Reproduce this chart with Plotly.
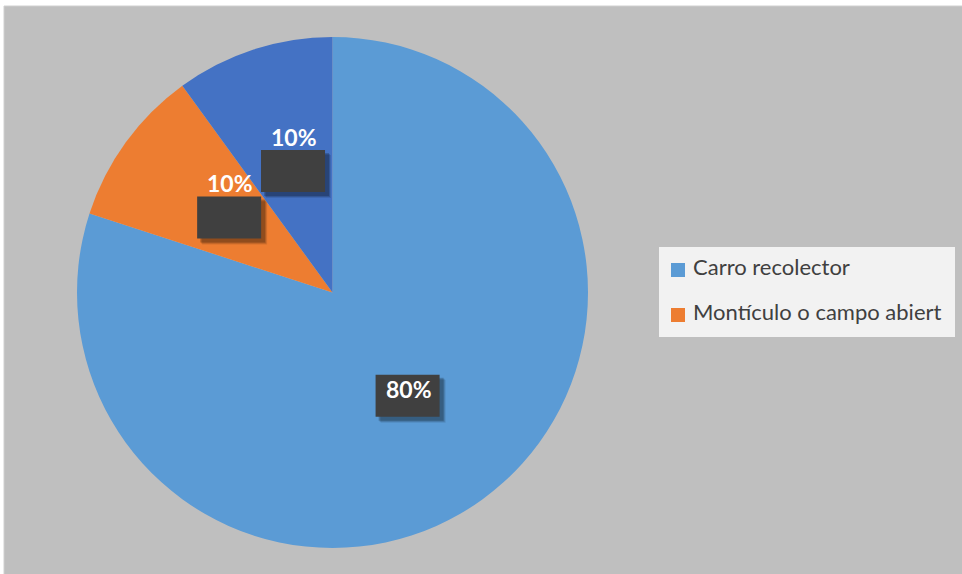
import math
import plotly.graph_objects as go

# Destino de los residuos (porcentaje de hogares)
labels = ["Carro recolector", "Montículo o campo abierto", "Quema"]
values = [80, 10, 10]
colors = ["#5B9BD5", "#ED7D31", "#4472C4"]
legend_text = ["Carro recolector", "Montículo o campo abiert"]

W, H = 962, 574
cx, cy, R = 332.5, 292.5, 255.5   # centre and radius of the pie in pixels


def px(x):
    return x / W


def py(y):
    return 1 - y / H


fig = go.Figure()
fig.add_trace(go.Pie(
    labels=labels, values=values, sort=False, direction="clockwise",
    marker=dict(colors=colors, line=dict(width=0)),
    textinfo="none", showlegend=False,
    domain=dict(x=[px(cx - R), px(cx + R)], y=[py(cy + R), py(cy - R)]),
))

shapes = [
    # chart area
    dict(type="rect", xref="paper", yref="paper", x0=px(4), x1=1.01, y0=-0.01, y1=py(6),
         fillcolor="#BFBFBF", line=dict(color="#D0D0D0", width=1), layer="below"),
]
annotations = []

# data labels: dark box with shadow at half radius along each slice's mid-angle
total = sum(values)
cum = 0
text_shift = [7, 34, 34]
bw, bh = 64, 42
for i, v in enumerate(values):
    mid = (cum + v / 2) / total * 2 * math.pi
    cum += v
    bx = cx + 0.5 * R * math.sin(mid)
    by = cy - 0.5 * R * math.cos(mid)
    for k, (off, op) in enumerate([(6, 0.10), (5, 0.15), (4, 0.2)]):
        shapes.append(dict(type="rect", xref="paper", yref="paper",
                           x0=px(bx - bw / 2 + off - 1), x1=px(bx + bw / 2 + off),
                           y0=py(by + bh / 2 + off), y1=py(by - bh / 2 + off - 1),
                           fillcolor="rgba(0,0,0,%s)" % op, line=dict(width=0)))
    shapes.append(dict(type="rect", xref="paper", yref="paper",
                       x0=px(bx - bw / 2), x1=px(bx + bw / 2),
                       y0=py(by + bh / 2), y1=py(by - bh / 2),
                       fillcolor="#404040", line=dict(width=0)))
    annotations.append(dict(
        x=px(bx + 1), y=py(by - text_shift[i]), xref="paper", yref="paper",
        text="<b>%d%%</b>" % round(100 * v / total), showarrow=False,
        font=dict(family="Lato", size=23, color="white"),
        xanchor="center", yanchor="middle"))

# legend
shapes.append(dict(type="rect", xref="paper", yref="paper",
                   x0=px(659), x1=px(955), y0=py(337), y1=py(247),
                   fillcolor="#F2F2F2", line=dict(width=0)))
for j, txt in enumerate(legend_text):
    yc = 270 + j * 45
    shapes.append(dict(type="rect", xref="paper", yref="paper",
                       x0=px(671), x1=px(685), y0=py(yc + 7), y1=py(yc - 7),
                       fillcolor=colors[j], line=dict(width=0)))
    annotations.append(dict(
        x=px(691), y=py(yc - 4), xref="paper", yref="paper", text=txt,
        showarrow=False, xanchor="left", yanchor="middle",
        font=dict(family="Lato", size=22, color="#404040")))

fig.update_layout(
    width=W, height=H, margin=dict(l=0, r=0, t=0, b=0),
    paper_bgcolor="white", plot_bgcolor="white",
    shapes=shapes, annotations=annotations,
)

fig.write_html("out.html")
